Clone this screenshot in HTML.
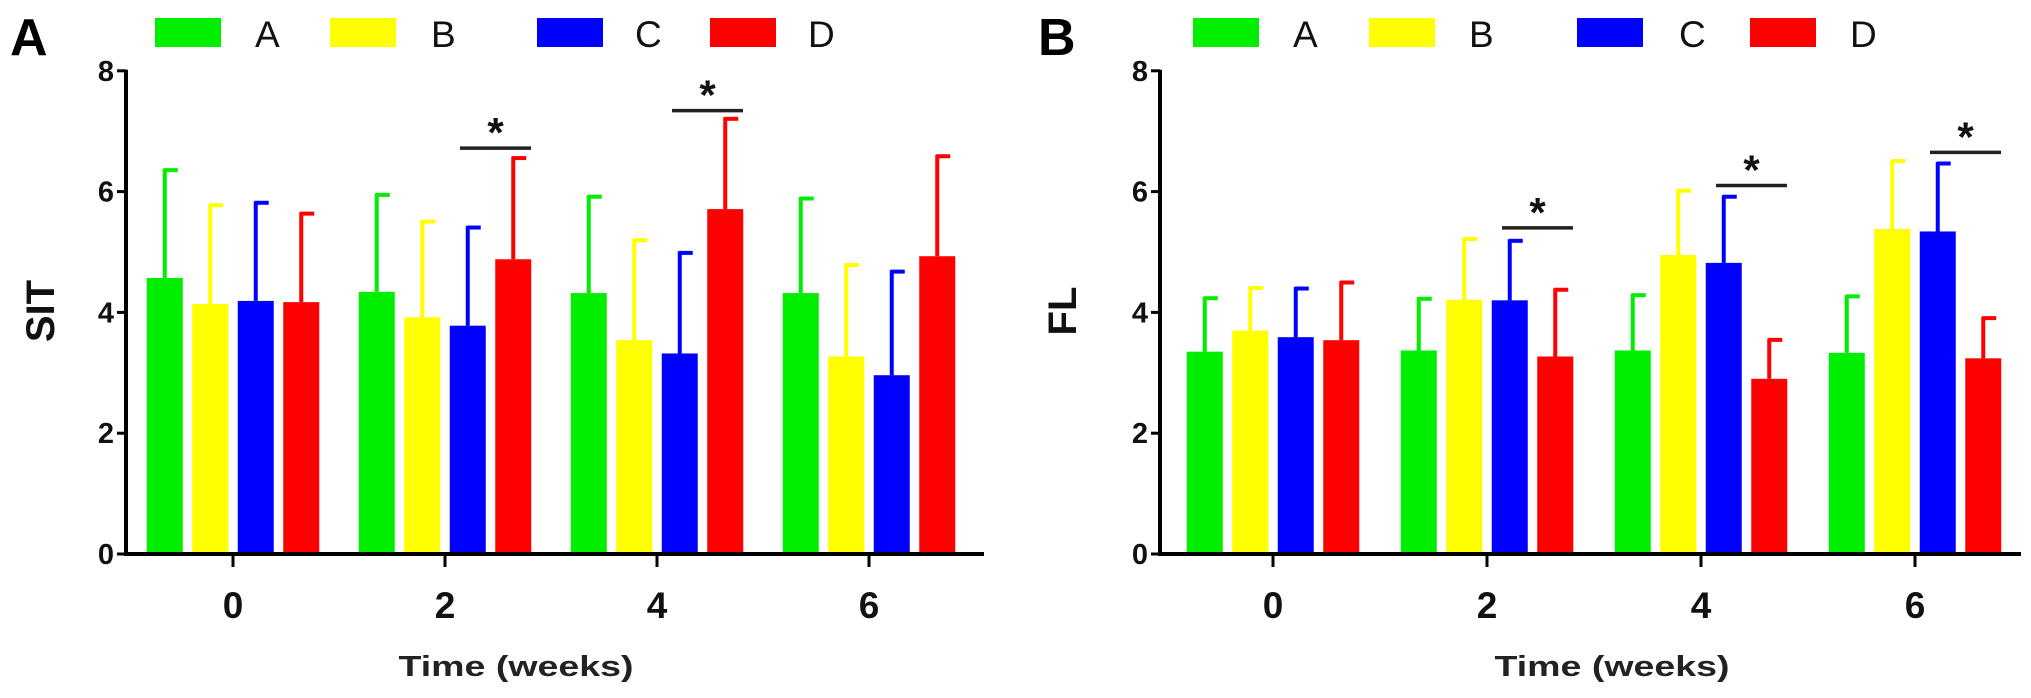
<!DOCTYPE html>
<html><head><meta charset="utf-8">
<style>
html,body{margin:0;padding:0;background:#fff;}
svg{display:block;font-family:"Liberation Sans",Arial,sans-serif;}
</style></head>
<body>
<svg id="chart" width="2031" height="698" viewBox="0 0 2031 698" xmlns="http://www.w3.org/2000/svg"></svg>
<script>
const categories = ["0","2","4","6"];
const seriesNames = ["A","B","C","D"];
const seriesColors = ["#00ee00","#ffff00","#0000ff","#ff0000"];
const yTicks = [0,2,4,6,8];
// Panel A (SIT)
const sitA = [4.57,4.34,4.32,4.32];
const sitB = [4.14,3.92,3.54,3.27];
const sitC = [4.19,3.78,3.32,2.96];
const sitD = [4.17,4.88,5.71,4.93];
const sitErrA = [1.81,1.63,1.62,1.59];
const sitErrB = [1.66,1.61,1.68,1.54];
const sitErrC = [1.65,1.65,1.69,1.74];
const sitErrD = [1.49,1.70,1.52,1.68];
const sitSig = [{cat:1,level:6.72},{cat:2,level:7.34}];
// Panel B (FL)
const flA = [3.35,3.37,3.37,3.33];
const flB = [3.70,4.21,4.95,5.38];
const flC = [3.59,4.20,4.82,5.34];
const flD = [3.54,3.27,2.90,3.24];
const flErrA = [0.91,0.88,0.94,0.96];
const flErrB = [0.73,1.03,1.09,1.15];
const flErrC = [0.83,1.01,1.12,1.15];
const flErrD = [0.98,1.13,0.67,0.69];
const flSig = [{cat:1,level:5.40},{cat:2,level:6.10},{cat:3,level:6.65}];

const NS="http://www.w3.org/2000/svg";
const svg=document.getElementById('chart');
function mk(tag,attrs,parent){const e=document.createElementNS(NS,tag);for(const k in attrs)e.setAttribute(k,attrs[k]);(parent||svg).appendChild(e);return e;}

function panel(cfg){
  const g=mk('g',{});
  
  
  const y0=554, unit=60.4;
  const yScale=v=>y0-v*unit;
  const xScale=i=>cfg.tick0+i*cfg.groupStep;
  const bw=36, pitch=45.5;
  cfg.values.forEach((vals,s)=>{
    vals.forEach((v,i)=>{
      const cx=xScale(i)+(s-1.5)*pitch;
      const top=yScale(v+cfg.errs[s][i]);
      const eb=mk('g',{},g);
      
      
      mk('line',{x1:cx,x2:cx,y1:yScale(v),y2:top,stroke:seriesColors[s],'stroke-width':4},eb);
      mk('line',{x1:cx-1,x2:cx+13,y1:top+1.5,y2:top+1.5,stroke:seriesColors[s],'stroke-width':4},eb);
      const r=mk('rect',{x:cx-bw/2,y:yScale(v),width:bw,height:y0-yScale(v),fill:seriesColors[s]},g);
      
      
    });
  });
  const ya=mk('line',{x1:cfg.axisX,x2:cfg.axisX,y1:yScale(8)-1,y2:y0+2,stroke:'#000','stroke-width':4},g);
  
  
  const xa=mk('line',{x1:cfg.axisX-2,x2:cfg.axisEnd,y1:y0,y2:y0,stroke:'#000','stroke-width':4},g);
  
  
  yTicks.forEach(t=>{
    mk('line',{x1:cfg.axisX-9,x2:cfg.axisX,y1:yScale(t),y2:yScale(t),stroke:'#000','stroke-width':3},g);
    const tx=mk('text',{x:cfg.axisX-12,y:yScale(t)+10,'text-anchor':'end','font-size':29,'font-weight':'bold',fill:'#111'},g);
    tx.textContent=t;
    
    
  });
  categories.forEach((c,i)=>{
    mk('line',{x1:xScale(i),x2:xScale(i),y1:y0,y2:y0+13,stroke:'#000','stroke-width':3},g);
    const tx=mk('text',{x:xScale(i),y:618,'text-anchor':'middle','font-size':37,'font-weight':'bold',fill:'#111'},g);
    tx.textContent=c;
    
    
  });
  const xt=mk('text',{x:cfg.xTitleX,y:676,'text-anchor':'middle','font-size':29,'font-weight':'bold',fill:'#222',textLength:235,lengthAdjust:'spacingAndGlyphs'},g);
  xt.textContent='Time (weeks)';
  
  
  const yt=mk('text',{x:0,y:0,'text-anchor':'middle','font-size':40,'font-weight':'bold',fill:'#111',transform:`translate(${cfg.yTitleX},311) rotate(-90)`},g);
  yt.textContent=cfg.yTitle;
  
  
  cfg.sig.forEach(s=>{
    const x1=xScale(s.cat)+15, x2=xScale(s.cat)+86;
    const sg=mk('g',{},g);
    
    
    mk('line',{x1:x1,x2:x2,y1:yScale(s.level),y2:yScale(s.level),stroke:'#222','stroke-width':3.5},sg);
    const st=mk('text',{x:(x1+x2)/2,y:yScale(s.level)-1,'text-anchor':'middle','font-size':42,'font-weight':'bold',fill:'#111'},sg);
    st.textContent='*';
  });
  const pl=mk('text',{x:cfg.letterX,y:55,'font-size':52,'font-weight':'bold',fill:'#000'},g);
  pl.textContent=cfg.letter;
  
  
  cfg.legendX.forEach((lx,s)=>{
    const le=mk('g',{},g);
    
    
    mk('rect',{x:lx,y:18,width:66,height:29,fill:seriesColors[s]},le);
    const t=mk('text',{x:cfg.legendTextX[s],y:47,'font-size':37,fill:'#111'},le);
    t.textContent=seriesNames[s];
  });
}

panel({name:'panel-a-sit',letter:'A',letterX:10,yTitle:'SIT',yTitleX:54,axisX:126,axisEnd:984,tick0:233,groupStep:212,
  values:[sitA,sitB,sitC,sitD],errs:[sitErrA,sitErrB,sitErrC,sitErrD],sig:sitSig,xTitleX:516,
  legendX:[155,330,537,710],legendTextX:[255,431,635,808]});
panel({name:'panel-b-fl',letter:'B',letterX:1038,yTitle:'FL',yTitleX:1076,axisX:1160,axisEnd:2021,tick0:1273,groupStep:214,
  values:[flA,flB,flC,flD],errs:[flErrA,flErrB,flErrC,flErrD],sig:flSig,xTitleX:1612,
  legendX:[1193,1369,1577,1750],legendTextX:[1293,1469,1679,1850]});
</script>
</body></html>
